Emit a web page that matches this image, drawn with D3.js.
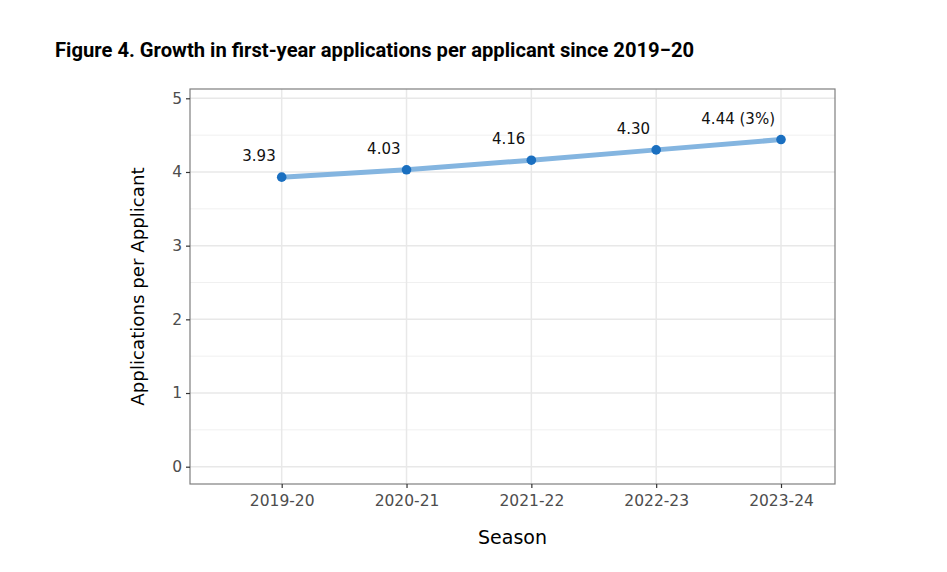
<!DOCTYPE html>
<html>
<head>
<meta charset="UTF-8">
<title>Figure 4</title>
<script src="https://d3js.org/d3.v7.min.js"></script>
<style>
  body { margin: 0; background: #fff; }
</style>
</head>
<body>
<div id="chart"></div>
<script>
// data
var seasons = ["2019-20", "2020-21", "2021-22", "2022-23", "2023-24"];
var appsPerApplicant = [3.93, 4.03, 4.16, 4.30, 4.44];
var pointLabels = ["3.93", "4.03", "4.16", "4.30", "4.44 (3%)"];
var yTicks = [0, 1, 2, 3, 4, 5];
var yMinor = [0.5, 1.5, 2.5, 3.5, 4.5];

var width = 947, height = 572;
var panel = {left: 190, right: 835, top: 89, bottom: 484};

var svg = d3.select("#chart").append("svg")
    .attr("width", width)
    .attr("height", height);

var xScale = d3.scalePoint()
    .domain(seasons)
    .range([281.7, 781]);

var yScale = d3.scaleLinear()
    .domain([0, 5])
    .range([466.7, 98.3]);

// title
svg.append("text")
    .attr("x", 55)
    .attr("y", 57)
    .attr("font-family", "Roboto")
    .attr("font-weight", "bold")
    .attr("font-size", 20.2)
    .attr("fill", "#000")
    .text("Figure 4. Growth in first-year applications per applicant since 2019\u221220");

// grid
var grid = svg.append("g");
grid.selectAll(".minor").data(yMinor).enter().append("line")
    .attr("x1", panel.left).attr("x2", panel.right)
    .attr("y1", d => yScale(d)).attr("y2", d => yScale(d))
    .attr("stroke", "#f0f0f0").attr("stroke-width", 1);
grid.selectAll(".major").data(yTicks).enter().append("line")
    .attr("x1", panel.left).attr("x2", panel.right)
    .attr("y1", d => yScale(d)).attr("y2", d => yScale(d))
    .attr("stroke", "#e8e8e8").attr("stroke-width", 1.5);
grid.selectAll(".vmajor").data(seasons).enter().append("line")
    .attr("x1", d => xScale(d)).attr("x2", d => xScale(d))
    .attr("y1", panel.top).attr("y2", panel.bottom)
    .attr("stroke", "#e8e8e8").attr("stroke-width", 1.5);

// panel border
svg.append("rect")
    .attr("x", panel.left).attr("y", panel.top)
    .attr("width", panel.right - panel.left)
    .attr("height", panel.bottom - panel.top)
    .attr("fill", "none")
    .attr("stroke", "#7f7f7f")
    .attr("stroke-width", 1.2);

// axes
var yAxis = d3.axisLeft(yScale).tickValues(yTicks).tickSize(4).tickPadding(4).tickFormat(d3.format("d"));
var gy = svg.append("g").attr("transform", "translate(" + panel.left + ",0)").call(yAxis);
var xAxis = d3.axisBottom(xScale).tickSize(4).tickPadding(4);
var gx = svg.append("g").attr("transform", "translate(0," + panel.bottom + ")").call(xAxis);
[gx, gy].forEach(function(g) {
  g.attr("font-family", "DejaVu Sans").attr("font-size", 15.5);
  g.select(".domain").remove();
  g.selectAll(".tick line").attr("stroke", "#333").attr("stroke-width", 1.2);
  g.selectAll(".tick text").attr("fill", "#4d4d4d");
});
gx.selectAll(".tick text").attr("dy", "0.9em");

// axis titles
svg.append("text")
    .attr("x", (panel.left + panel.right) / 2)
    .attr("y", 544)
    .attr("text-anchor", "middle")
    .attr("font-family", "DejaVu Sans")
    .attr("font-size", 19)
    .attr("fill", "#000")
    .text("Season");
svg.append("text")
    .attr("transform", "translate(144," + ((panel.top + panel.bottom) / 2) + ") rotate(-90)")
    .attr("text-anchor", "middle")
    .attr("font-family", "DejaVu Sans")
    .attr("font-size", 18.2)
    .attr("fill", "#000")
    .text("Applications per Applicant");

// line
var line = d3.line()
    .x((d, i) => xScale(seasons[i]))
    .y(d => yScale(d));
svg.append("path")
    .attr("d", line(appsPerApplicant))
    .attr("fill", "none")
    .attr("stroke", "#84b5e0")
    .attr("stroke-width", 5);

// points
svg.selectAll(".pt").data(appsPerApplicant).enter().append("circle")
    .attr("cx", (d, i) => xScale(seasons[i]))
    .attr("cy", d => yScale(d))
    .attr("r", 4.8)
    .attr("fill", "#1a6fc0");

// labels
svg.selectAll(".lbl").data(appsPerApplicant).enter().append("text")
    .attr("x", (d, i) => xScale(seasons[i]) - 6)
    .attr("y", d => yScale(d) - 16)
    .attr("text-anchor", "end")
    .attr("font-family", "DejaVu Sans")
    .attr("font-size", 15)
    .attr("fill", "#111")
    .text((d, i) => pointLabels[i]);
</script>
</body>
</html>
